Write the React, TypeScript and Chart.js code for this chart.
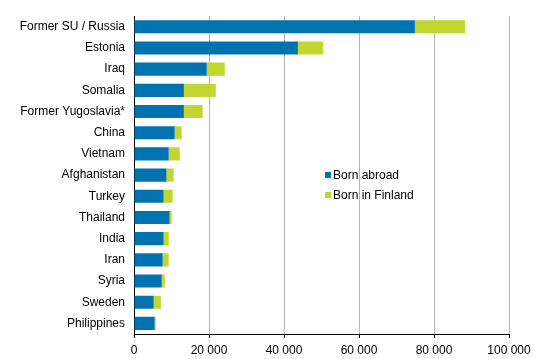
import React, { useEffect, useRef } from "react";
import { Chart, registerables } from "chart.js";

Chart.register(...registerables);

const categories = [
  "Former SU / Russia",
  "Estonia",
  "Iraq",
  "Somalia",
  "Former Yugoslavia*",
  "China",
  "Vietnam",
  "Afghanistan",
  "Turkey",
  "Thailand",
  "India",
  "Iran",
  "Syria",
  "Sweden",
  "Philippines",
];
const bornAbroad = [74900, 43700, 19400, 13300, 13300, 10850, 9250, 8650, 7900, 9500, 7900, 7650, 7400, 5250, 5500];
const bornInFinland = [13400, 6700, 4800, 8500, 5000, 1850, 2950, 1950, 2400, 550, 1350, 1600, 800, 1900, 300];
const seriesNames = ["Born abroad", "Born in Finland"];
const seriesColors = ["#0073b0", "#c1d72f"];
const xTicks = [0, 20000, 40000, 60000, 80000, 100000];

const fmt = (v: number) => String(v).replace(/\B(?=(\d{3})+(?!\d))/g, " ");

export default function App() {
  const ref = useRef<HTMLCanvasElement>(null);
  useEffect(() => {
    document.body.style.margin = "0";
    const font = { family: "'Liberation Sans', Arial, sans-serif", size: 12 };
    const chart = new Chart(ref.current!, {
      type: "bar",
      data: {
        labels: categories,
        datasets: [
          { label: seriesNames[0], data: bornAbroad, backgroundColor: seriesColors[0] },
          { label: seriesNames[1], data: bornInFinland, backgroundColor: seriesColors[1] },
        ],
      },
      options: {
        indexAxis: "y",
        animation: false,
        responsive: false,
        maintainAspectRatio: false,
        layout: { padding: { left: 0, right: 30, top: 13, bottom: 0 } },
        datasets: { bar: { barPercentage: 0.62, categoryPercentage: 1 } },
        plugins: { legend: { display: false }, tooltip: { enabled: false } },
        scales: {
          x: {
            stacked: true,
            min: 0,
            max: 100000,
            afterBuildTicks: (s: any) => {
              s.ticks = xTicks.map((v) => ({ value: v }));
            },
            afterFit: (s: any) => {
              s.height = 25;
            },
            ticks: {
              color: "#000",
              font,
              padding: 5,
              callback: (v: any) => fmt(Number(v)),
            },
            grid: { color: "#b3b3b3", tickColor: "#000", tickLength: 4, lineWidth: 1 },
            border: { color: "#000", width: 1 },
          },
          y: {
            stacked: true,
            afterFit: (s: any) => {
              s.width = 134;
            },
            ticks: { color: "#000", font, padding: 9 },
            grid: { display: false, drawTicks: false },
            border: { color: "#000", width: 1 },
          },
        },
      },
    });
    return () => chart.destroy();
  }, []);

  const legendItem = (i: number, top: number) => (
    <div
      key={i}
      style={{
        position: "absolute",
        left: 325,
        top,
        display: "flex",
        alignItems: "center",
        font: "12px 'Liberation Sans', Arial, sans-serif",
        color: "#000",
        whiteSpace: "nowrap",
      }}
    >
      <span style={{ display: "inline-block", width: 6, height: 6, background: seriesColors[i], marginRight: 2 }} />
      <span>{seriesNames[i]}</span>
    </div>
  );

  return (
    <div style={{ position: "relative", width: 539, height: 359 }}>
      <canvas ref={ref} width={539} height={359} style={{ display: "block" }} />
      {legendItem(0, 168)}
      {legendItem(1, 188)}
    </div>
  );
}
